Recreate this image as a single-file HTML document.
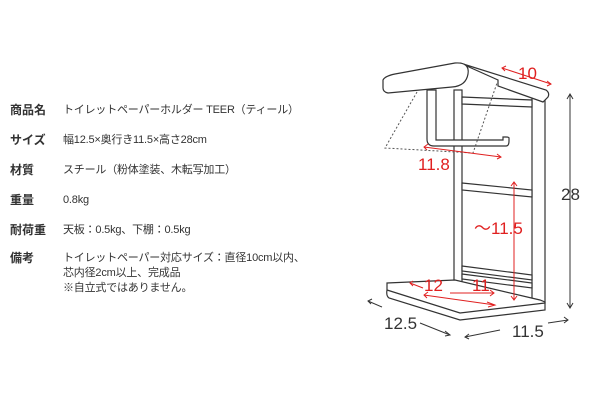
<!DOCTYPE html>
<html><head><meta charset="utf-8"><style>
body{margin:0;width:600px;height:415px;background:#fff;overflow:hidden;font-family:"Liberation Sans","Noto Sans CJK JP",sans-serif;}
.t{position:absolute;font-size:12px;color:#333;line-height:14px;white-space:nowrap}
.b{font-weight:bold;left:10px}
.v{left:63px;font-size:11px;letter-spacing:-0.2px}
svg{position:absolute;left:0;top:0}
</style></head><body>
<div class="t b" style="top:103px">商品名</div><div class="t v" style="top:103px">トイレットペーパーホルダー TEER（ティール）</div>
<div class="t b" style="top:133px">サイズ</div><div class="t v" style="top:133px">幅12.5×奥行き11.5×高さ28cm</div>
<div class="t b" style="top:163px">材質</div><div class="t v" style="top:163px">スチール（粉体塗装、木転写加工）</div>
<div class="t b" style="top:193px">重量</div><div class="t v" style="top:193px">0.8kg</div>
<div class="t b" style="top:223px">耐荷重</div><div class="t v" style="top:223px">天板：0.5kg、下棚：0.5kg</div>
<div class="t b" style="top:251px">備考</div><div class="t v" style="top:251px">トイレットペーパー対応サイズ：直径10cm以内、</div>
<div class="t v" style="top:266px">芯内径2cm以上、完成品</div>
<div class="t v" style="top:281px">※自立式ではありません。</div>
<svg width="600" height="415" viewBox="0 0 600 415">
<g fill="#fff" stroke="#333" stroke-width="1.2">
<rect x="454" y="90" width="8" height="195"/>
<rect x="532" y="98" width="13" height="205"/>
<polygon points="462,97 532,100 532,107 462,104"/>
<polygon points="462,183 532,190 532,197 462,190"/>
<polygon points="462,266 532,275 532,280 462,271"/>
<polygon points="462,274 532,283 532,288 462,279"/>
<path d="M427,90 V139 Q427,146 434,146 H506 Q509,146 509,141 V138 Q509,137 506,137 H503 V140 H436 V90 Z"/>
<path d="M460,63 L546,90 Q550,93 548,97 L543,102 L498,86 L498,80 Z"/>
<path d="M383,80 Q385,76 395,74 L455,63 Q470,62 468,74 Q466,86 452,87 L388,93 Q383,92 383,88 Z"/>
<path d="M387,283 L455,280 L540,300 L545,302 L545,310 L460,320 L389,298 Q386,296 387,290 Z"/>
<path d="M387,290 L460,313 L545,303" fill="none"/>
</g>
<g fill="none" stroke="#555" stroke-width="1" stroke-dasharray="2,2">
<polyline points="417,92 385,148 473,153 497,83"/>
</g>
<g stroke="#e02020" stroke-width="1" fill="none">
<line x1="502" y1="68" x2="551" y2="84"/><polyline points="506,66 502,68 505,71"/><polyline points="547,81 551,84 547,86"/>
<line x1="424" y1="147" x2="501" y2="157"/><polyline points="428,144 424,147 427,150"/><polyline points="497,154 501,157 497,159"/>
<line x1="514" y1="182" x2="514" y2="300"/><polyline points="511,186 514,182 517,186"/><polyline points="511,296 514,300 517,296"/>
<line x1="410" y1="283" x2="423" y2="288"/><polyline points="413,281 410,283 413,286"/>
<line x1="424" y1="295" x2="495" y2="305"/><polyline points="428,292 424,295 427,298"/>
<line x1="450" y1="293" x2="494" y2="293"/><polyline points="490,290 494,293 490,296"/><polyline points="487,302 495,305 488,307"/>
</g>
<g stroke="#333" stroke-width="1" fill="none">
<line x1="570" y1="94" x2="570" y2="308"/><polyline points="567,99 570,94 573,99"/><polyline points="567,303 570,308 573,303"/>
<line x1="368" y1="301" x2="382" y2="307"/><polyline points="372,299 368,301 371,304"/>
<line x1="420" y1="323" x2="450" y2="335"/><polyline points="445,331 450,335 445,336"/>
<line x1="465" y1="337" x2="500" y2="330"/><polyline points="469,334 465,337 469,339"/>
<line x1="548" y1="323" x2="568" y2="320"/><polyline points="564,317 568,320 564,323"/>
</g>
<g font-family="Liberation Sans, sans-serif" font-size="17">
<text x="518" y="79" fill="#e02020">10</text>
<text x="418" y="170" fill="#e02020">11.8</text>
<text x="474" y="234" fill="#e02020">〜11.5</text>
<text x="424" y="291" fill="#e02020">12</text>
<text x="472" y="291" fill="#e02020">11</text>
<text x="561" y="200" fill="#333">28</text>
<text x="384" y="329" fill="#333">12.5</text>
<text x="512" y="337" fill="#333">11.5</text>
</g>
</svg>
</body></html>
